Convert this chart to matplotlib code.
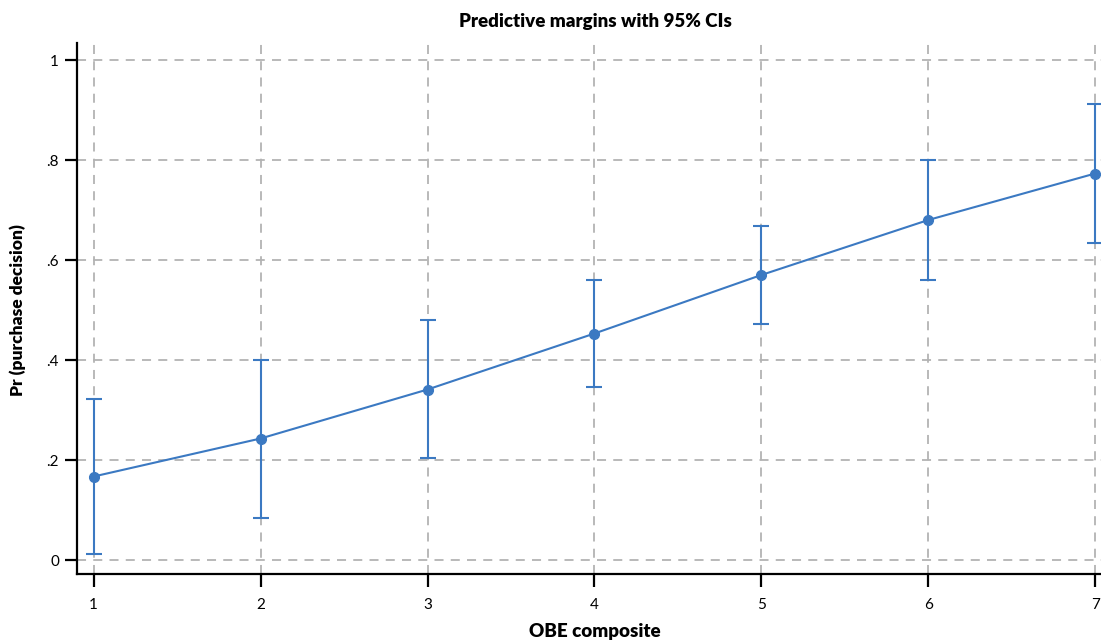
import matplotlib
matplotlib.use("Agg")
import matplotlib.pyplot as plt

x_vals = [1, 2, 3, 4, 5, 6, 7]
margins = [0.167, 0.243, 0.341, 0.453, 0.570, 0.680, 0.773]
ci_lower = [0.013, 0.085, 0.205, 0.347, 0.473, 0.560, 0.634]
ci_upper = [0.322, 0.401, 0.480, 0.560, 0.668, 0.800, 0.912]
y_ticks = [0, 0.2, 0.4, 0.6, 0.8, 1.0]
y_ticklabels = ["0", ".2", ".4", ".6", ".8", "1"]

plt.rcParams['font.family'] = ['Lato', 'DejaVu Sans']
blue = "#3b79c2"
grid_c = "#b3b3b3"

fig = plt.figure(figsize=(11.01, 6.42), dpi=100)
ax = fig.add_axes([77/1101, 1 - 574/642, 1 - 77/1101, (574 - 43)/642])

ax.set_xlim(0.90, 7.035)
ax.set_ylim(-0.028, 1.034)

for xv in x_vals:
    ax.axvline(xv, color=grid_c, lw=1.3, ls=(0, (5, 4)), zorder=0)
for yv in y_ticks:
    ax.axhline(yv, color=grid_c, lw=1.3, ls=(0, (5, 4)), zorder=0)

yerr = [[m - l for m, l in zip(margins, ci_lower)], [u - m for m, u in zip(margins, ci_upper)]]
ax.errorbar(x_vals, margins, yerr=yerr, color=blue, lw=1.5, elinewidth=1.5,
            capsize=6, capthick=1.5, marker='o', markersize=7, zorder=3)

ax.set_xticks(x_vals)
ax.set_xticklabels([str(v) for v in x_vals])
ax.set_yticks(y_ticks)
ax.set_yticklabels(y_ticklabels)

for s in ['top', 'right']:
    ax.spines[s].set_visible(False)
for s in ['left', 'bottom']:
    ax.spines[s].set_linewidth(1.6)
    ax.spines[s].set_color('black')

ax.tick_params(axis='both', length=9, width=1.6, labelsize=11, colors='black')
ax.tick_params(axis='x', pad=8)
ax.tick_params(axis='y', pad=4)

fig.text(595/1101, 1 - 22/642, "Predictive margins with 95% CIs", ha='center', va='center',
         fontsize=13.5, fontweight='heavy')
fig.text(595/1101, 1 - 632/642, "OBE composite", ha='center', va='center',
         fontsize=13.5, fontweight='heavy')
fig.text(18/1101, 1 - 310/642, "Pr (purchase decision)", ha='center', va='center',
         fontsize=12.5, fontweight='heavy', rotation=90)

fig.savefig("out.png", dpi=100)
